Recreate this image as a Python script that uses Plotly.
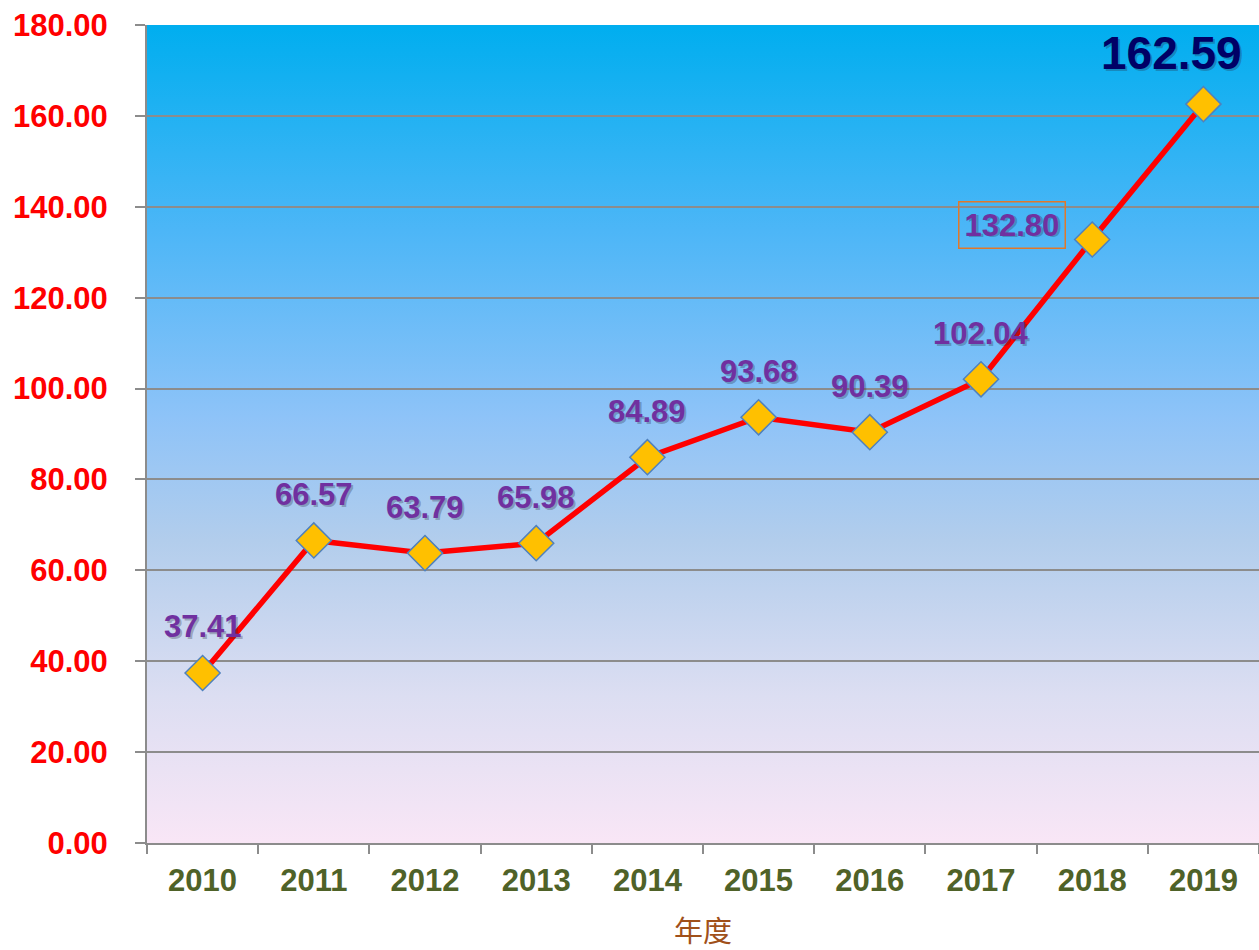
import base64
import plotly.graph_objects as go

# ---- data ----
years = ["2010", "2011", "2012", "2013", "2014", "2015", "2016", "2017", "2018", "2019"]
values = [37.41, 66.57, 63.79, 65.98, 84.89, 93.68, 90.39, 102.04, 132.80, 162.59]
y_ticks = [0, 20, 40, 60, 80, 100, 120, 140, 160, 180]
x_title = "年度"

# ---- background gradient (SVG image) ----
stops = [
    (0.0, "#00AEEF"),
    (0.25, "#4CB6F7"),
    (0.48, "#8EC3F8"),
    (0.63, "#B2CDEC"),
    (0.82, "#DCDEF2"),
    (1.0, "#F9E6F6"),
]
stop_xml = "".join(
    f'<stop offset="{o}" stop-color="{c}"/>' for o, c in stops
)
svg = (
    '<svg xmlns="http://www.w3.org/2000/svg" width="100" height="100" '
    'viewBox="0 0 100 100" preserveAspectRatio="none">'
    '<defs><linearGradient id="g" x1="0" y1="0" x2="0" y2="1">'
    + stop_xml
    + '</linearGradient></defs><rect x="0" y="0" width="100" height="100" fill="url(#g)"/></svg>'
)
svg_uri = "data:image/svg+xml;base64," + base64.b64encode(svg.encode()).decode()

FONT = "Liberation Sans, Arial, sans-serif"

fig = go.Figure()
fig.add_trace(
    go.Scatter(
        x=years,
        y=values,
        mode="lines+markers",
        line=dict(color="#FF0000", width=5.5),
        marker=dict(
            symbol="diamond",
            size=27,
            color="#FFC000",
            line=dict(color="#4F81BD", width=1.5),
        ),
        showlegend=False,
        hoverinfo="x+y",
    )
)

annotations = []
last = len(years) - 1
for i, v in enumerate(values):
    xs, ys, size, color = 0, 46, 31, "#7030A0"
    if i == last:
        xs, ys, size, color = -32, 51, 46, "#000066"
    elif i == last - 1:
        xs, ys = -80, 15
    label = f"<b>{v:.2f}</b>"
    # soft shadow copy
    annotations.append(
        dict(
            x=i, y=v, xref="x", yref="y", text=label, showarrow=False,
            xshift=xs + 2, yshift=ys - 2,
            font=dict(family=FONT, size=size, color="rgba(40,40,60,0.3)"),
        )
    )
    ann = dict(
        x=i, y=v, xref="x", yref="y", text=label, showarrow=False,
        xshift=xs, yshift=ys,
        font=dict(family=FONT, size=size, color=color),
    )
    if i == last - 1:
        ann.update(bordercolor="#E0782A", borderwidth=1.5, borderpad=5)
    annotations.append(ann)

fig.update_layout(
    width=1259,
    height=950,
    autosize=False,
    margin=dict(l=147, r=0, t=25, b=107),
    paper_bgcolor="white",
    plot_bgcolor="rgba(0,0,0,0)",
    images=[
        dict(
            source=svg_uri,
            xref="paper",
            yref="paper",
            x=0,
            y=1,
            sizex=1,
            sizey=1,
            sizing="stretch",
            xanchor="left",
            yanchor="top",
            layer="below",
        )
    ],
    annotations=annotations,
    xaxis=dict(
        type="category",
        range=[-0.5, len(years) - 0.5],
        automargin=False,
        tickson="boundaries",
        ticks="outside",
        ticklen=9,
        tickwidth=1.5,
        tickcolor="#8C8C8C",
        showline=True,
        linecolor="#8C8C8C",
        linewidth=2,
        showgrid=False,
        tickfont=dict(family=FONT, size=31, color="#4F6228", weight="bold"),
        ticklabelstandoff=9,
        title=dict(
            text=x_title,
            font=dict(family="Noto Sans CJK SC", size=29, color="#A0501A"),
            standoff=35,
        ),
        fixedrange=True,
    ),
    yaxis=dict(
        range=[0, 180],
        automargin=False,
        tickvals=y_ticks,
        tickformat=".2f",
        ticks="outside",
        ticklen=10,
        tickwidth=1.5,
        tickcolor="#8C8C8C",
        showline=True,
        linecolor="#8C8C8C",
        linewidth=2,
        showgrid=True,
        gridcolor="#8C8C8C",
        gridwidth=1.5,
        zeroline=False,
        tickfont=dict(family=FONT, size=31, color="#FF0000", weight="bold"),
        ticklabelstandoff=21,
        fixedrange=True,
    ),
)

fig.write_html("out.html")
